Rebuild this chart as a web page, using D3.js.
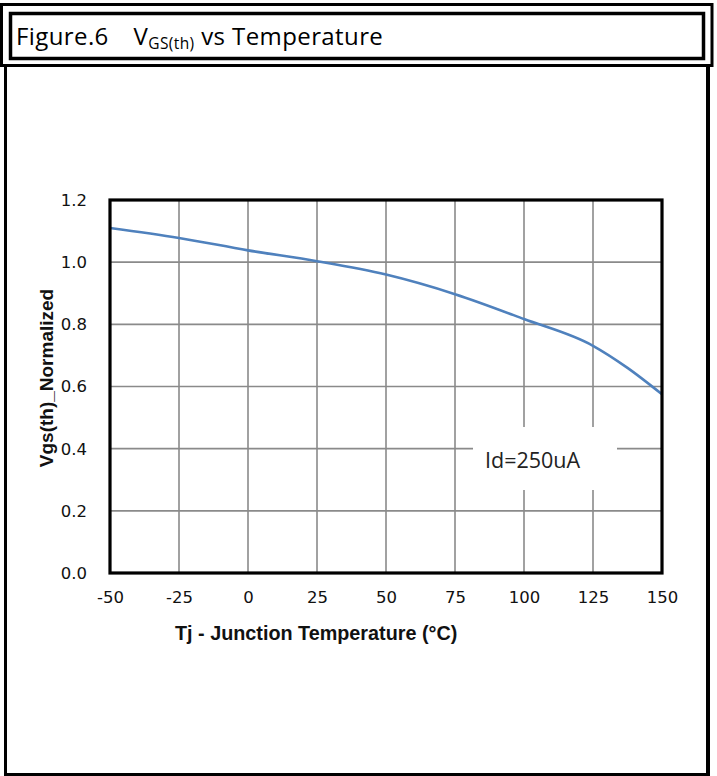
<!DOCTYPE html>
<html>
<head>
<meta charset="utf-8">
<script src="https://cdn.jsdelivr.net/npm/d3@7"></script>
<style>
  html, body { margin: 0; padding: 0; background: #fff; }
  svg { display: block; }
</style>
</head>
<body>
<svg id="chart" width="717" height="776"></svg>
<script>
// Junction temperature (°C) and normalized gate threshold voltage
const temps = [-50, -25, 0, 25, 50, 75, 100, 125, 137.5, 150];
const vgsNorm = [1.11, 1.078, 1.038, 1.003, 0.96, 0.897, 0.817, 0.731, 0.66, 0.575];
const xTicks = [-50, -25, 0, 25, 50, 75, 100, 125, 150];
const yTicks = [0.0, 0.2, 0.4, 0.6, 0.8, 1.0, 1.2];
const noteText = "Id=250uA";

const svg = d3.select("#chart");

// Figure header frame
svg.append("rect").attr("x", 1.5).attr("y", 4.5).attr("width", 710.5).attr("height", 61)
  .attr("fill", "none").attr("stroke", "#000").attr("stroke-width", 3);
svg.append("rect").attr("x", 10.5).attr("y", 13.5).attr("width", 693).attr("height", 45)
  .attr("fill", "none").attr("stroke", "#000").attr("stroke-width", 3.5);

const title = svg.append("text").attr("x", 16).attr("y", 45)
  .attr("font-family", "'Open Sans', 'Noto Sans', sans-serif")
  .attr("font-size", 24).attr("letter-spacing", 0.4).attr("fill", "#000");
title.append("tspan").text("Figure.6\u2002\u2002V");
title.append("tspan").attr("dy", 4).attr("font-size", 15.5).text("GS(th)");
title.append("tspan").attr("dy", -4).text(" vs Temperature");

// Panel frame
svg.append("line").attr("x1", 5.5).attr("x2", 5.5).attr("y1", 66).attr("y2", 776)
  .attr("stroke", "#000").attr("stroke-width", 3);
svg.append("line").attr("x1", 708).attr("x2", 708).attr("y1", 66).attr("y2", 776)
  .attr("stroke", "#000").attr("stroke-width", 4);
svg.append("line").attr("x1", 4).attr("x2", 710).attr("y1", 774.5).attr("y2", 774.5)
  .attr("stroke", "#000").attr("stroke-width", 3);

// Plot area
const L = 110, R = 662, T = 200, B = 573;
const x = d3.scaleLinear().domain([-50, 150]).range([L, R]);
const y = d3.scaleLinear().domain([0, 1.2]).range([B, T]);

const grid = svg.append("g").attr("stroke", "#8a8a8a").attr("stroke-width", 1.6);
grid.selectAll("line.v").data(xTicks.slice(1, -1)).join("line")
  .attr("x1", d => x(d)).attr("x2", d => x(d)).attr("y1", T).attr("y2", B);
grid.selectAll("line.h").data(yTicks.slice(1, -1)).join("line")
  .attr("x1", L).attr("x2", R).attr("y1", d => y(d)).attr("y2", d => y(d));

// Curve
const line = d3.line().x((d, i) => x(temps[i])).y(d => y(d)).curve(d3.curveMonotoneX);
svg.append("path").datum(vgsNorm).attr("d", line)
  .attr("fill", "none").attr("stroke", "#4f81bd").attr("stroke-width", 2.6);

// Annotation box
svg.append("rect").attr("x", 473).attr("y", 427).attr("width", 144).attr("height", 63).attr("fill", "#fff");
svg.append("text").attr("x", 485).attr("y", 468)
  .attr("font-family", "'Open Sans', 'Noto Sans', sans-serif")
  .attr("font-size", 21.5).attr("fill", "#222").text(noteText);

// Plot border
svg.append("rect").attr("x", L).attr("y", T).attr("width", R - L).attr("height", B - T)
  .attr("fill", "none").attr("stroke", "#000").attr("stroke-width", 3.2);

// Axes tick labels (plain hyphen for negatives)
const tickFont = "'DejaVu Sans', Verdana, sans-serif";
const xAxis = d3.axisBottom(x).tickValues(xTicks).tickSize(0).tickPadding(0).tickFormat(d => String(d));
const gx = svg.append("g").attr("transform", `translate(0,${B})`).call(xAxis);
gx.select(".domain").remove();
gx.selectAll("text").attr("y", 30).attr("dy", 0).attr("font-family", tickFont)
  .attr("font-size", 16.5).attr("fill", "#111");

const yAxis = d3.axisLeft(y).tickValues(yTicks).tickSize(0).tickPadding(0).tickFormat(d => d.toFixed(1));
const gy = svg.append("g").attr("transform", `translate(${L},0)`).call(yAxis);
gy.select(".domain").remove();
gy.selectAll("text").attr("x", -23).attr("dy", "0.33em").attr("font-family", tickFont)
  .attr("font-size", 16.5).attr("fill", "#111");

// Axis titles
svg.append("text").attr("x", 175).attr("y", 640)
  .attr("font-family", "'Liberation Sans', Arial, sans-serif").attr("font-weight", "bold")
  .attr("font-size", 19.8).attr("fill", "#111").text("Tj - Junction Temperature (°C)");

svg.append("text").attr("transform", `translate(53,${378}) rotate(-90)`)
  .attr("text-anchor", "middle")
  .attr("font-family", "'Liberation Sans', Arial, sans-serif").attr("font-weight", "bold")
  .attr("font-size", 19).attr("fill", "#111").text("Vgs(th)_Normalized");
</script>
</body>
</html>
